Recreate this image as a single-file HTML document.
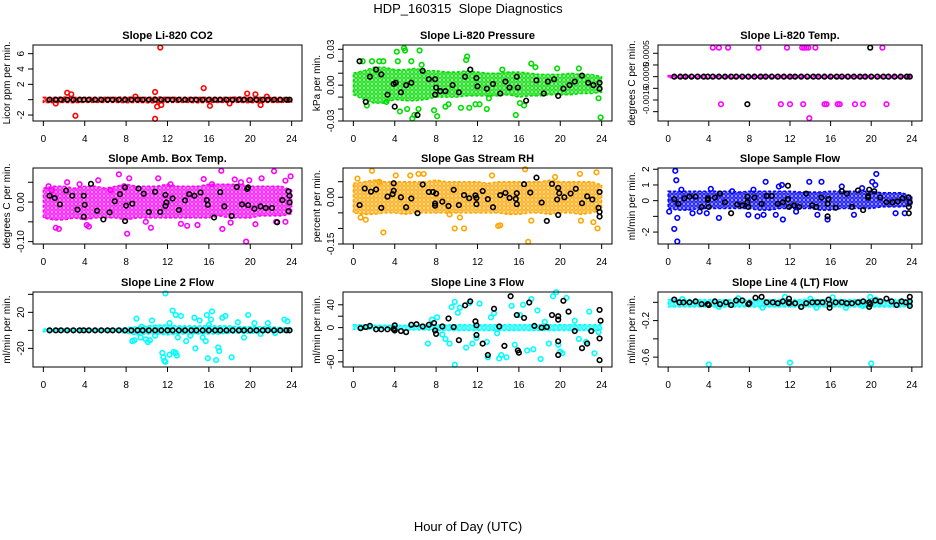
<!DOCTYPE html>
<html><head><meta charset="utf-8"><style>
html,body{margin:0;padding:0;background:#fff;}
svg{display:block;font-family:"Liberation Sans",sans-serif;}
</style></head><body>
<svg id="chart" width="936" height="540" viewBox="0 0 936 540" xmlns="http://www.w3.org/2000/svg">
<text x="468" y="13" font-size="13" text-anchor="middle" style="white-space:pre">HDP_160315  Slope Diagnostics</text>
<text x="468" y="531" font-size="13" text-anchor="middle">Hour of Day (UTC)</text>
</svg>
<script>
const xTicks=[0,4,8,12,16,20,24];
const hours=[0,1,2,3,4,5,6,7,8,9,10,11,12,13,14,15,16,17,18,19,20,21,22,23,24];
const blackXsCommon=[0.6,1.2,1.7,2.3,2.9,3.5,3.9,4.4,5,5.6,6.2,6.7,7.3,7.9,8.5,9.1,9.6,10.2,10.8,11.4,12,12.5,13.1,13.7,14.3,14.8,15.4,16,16.6,17.1,17.7,18.3,18.9,19.4,20,20.6,21.2,21.7,22.3,22.9,23.5,23.8];
const titles=["Slope Li-820 CO2","Slope Li-820 Pressure","Slope Li-820 Temp.","Slope Amb. Box Temp.","Slope Gas Stream RH","Slope Sample Flow","Slope Line 2 Flow","Slope Line 3 Flow","Slope Line 4 (LT) Flow"];
const yTitles=["Licor ppm per min.","kPa per min.","degrees C per min.","degrees C per min.","percent per min.","ml/min per min.","ml/min per min.","ml/min per min.","ml/min per min."];
const colors=["#ff0000","#00dd00","#ff00ff","#ff00ff","#ffa500","#0000ff","#00ffff","#00ffff","#00ffff"];
const yLims=[[-2.78,7.13],[-0.03,0.0336],[-0.0024,0.000855],[-0.106,0.086],[-0.15,0.094],[-2.76,2.08],[-40.7,42.6],[-69,62.4],[-0.708,0.113]];
const yTickVals=[[-2,0,2,4,6],[-0.03,-0.02,-0.01,0,0.01,0.02,0.03],[-0.002,-0.0015,-0.001,-0.0005,0,0.0005],[-0.1,-0.05,0,0.05],[-0.15,-0.1,-0.05,0,0.05],[-2,-1,0,1,2],[-20,0,20,40],[-60,-40,-20,0,20,40],[-0.6,-0.4,-0.2,0]];
const yTickLabels=[["-2","","2","4","6"],["-0.03","","","0.00","","","0.03"],["","-0.0015","","-0.0005","","0.0005"],["-0.10","","0.00",""],["-0.15","","","0.00",""],["-2","","0","1","2"],["-20","","20",""],["-60","","","0","","40"],["-0.6","","-0.2",""]];
const bandLo=[
[-0.35,-0.4,-0.35,-0.4,-0.35,-0.35,-0.35,-0.35,-0.4,-0.35,-0.4,-0.4,-0.35,-0.35,-0.35,-0.4,-0.35,-0.35,-0.35,-0.35,-0.4,-0.35,-0.35,-0.35,-0.3],
[-0.008,-0.012,-0.015,-0.015,-0.012,-0.013,-0.013,-0.012,-0.01,-0.01,-0.01,-0.009,-0.009,-0.009,-0.009,-0.008,-0.01,-0.009,-0.009,-0.008,-0.008,-0.008,-0.007,-0.007,-0.006],
[-0.00055,-0.00055,-0.00055,-0.00055,-0.00055,-0.00055,-0.00055,-0.00055,-0.00055,-0.00055,-0.00055,-0.00055,-0.00055,-0.00055,-0.00055,-0.00055,-0.00055,-0.00055,-0.00055,-0.00055,-0.00055,-0.00055,-0.00055,-0.00055,-0.00055],
[-0.04,-0.045,-0.045,-0.04,-0.045,-0.04,-0.04,-0.04,-0.045,-0.04,-0.04,-0.04,-0.04,-0.04,-0.04,-0.04,-0.04,-0.035,-0.04,-0.04,-0.04,-0.035,-0.035,-0.035,-0.03],
[-0.05,-0.055,-0.055,-0.05,-0.05,-0.055,-0.05,-0.05,-0.05,-0.05,-0.05,-0.05,-0.05,-0.05,-0.05,-0.055,-0.055,-0.05,-0.05,-0.055,-0.05,-0.05,-0.055,-0.05,-0.04],
[-0.5,-0.6,-0.6,-0.5,-0.5,-0.5,-0.5,-0.5,-0.5,-0.6,-0.6,-0.5,-0.5,-0.5,-0.5,-0.6,-0.6,-0.5,-0.5,-0.5,-0.5,-0.4,-0.4,-0.4,-0.3],
[-1.5,-1.5,-1.5,-1.5,-1.5,-1.5,-1.5,-1.5,-3,-5,-4,-4,-5,-4,-4,-4,-4,-4,-3,-3,-3,-3,-2,-2,-2],
[-3,-3,-3,-3,-3,-4,-4,-4,-5,-5,-5,-5,-5,-5,-5,-5,-5,-5,-5,-5,-5,-5,-5,-5,-5],
[-0.05,-0.05,-0.05,-0.05,-0.05,-0.05,-0.05,-0.05,-0.05,-0.05,-0.05,-0.05,-0.05,-0.05,-0.05,-0.05,-0.05,-0.05,-0.05,-0.05,-0.05,-0.05,-0.05,-0.05,-0.04]];
const bandHi=[
[0.3,0.3,0.35,0.3,0.3,0.3,0.3,0.3,0.35,0.3,0.3,0.35,0.3,0.3,0.3,0.3,0.3,0.3,0.3,0.35,0.3,0.3,0.3,0.3,0.25],
[0.01,0.012,0.015,0.015,0.013,0.013,0.014,0.012,0.012,0.011,0.011,0.012,0.011,0.01,0.01,0.011,0.011,0.01,0.009,0.009,0.009,0.01,0.009,0.009,0.007],
[-0.00045,-0.00045,-0.00045,-0.00045,-0.00045,-0.00045,-0.00045,-0.00045,-0.00045,-0.00045,-0.00045,-0.00045,-0.00045,-0.00045,-0.00045,-0.00045,-0.00045,-0.00045,-0.00045,-0.00045,-0.00045,-0.00045,-0.00045,-0.00045,-0.00045],
[0.035,0.04,0.04,0.035,0.04,0.04,0.035,0.04,0.045,0.04,0.04,0.04,0.045,0.04,0.04,0.04,0.045,0.045,0.045,0.045,0.04,0.04,0.04,0.04,0.03],
[0.045,0.05,0.055,0.05,0.05,0.05,0.05,0.05,0.055,0.05,0.05,0.05,0.05,0.045,0.05,0.05,0.05,0.05,0.05,0.055,0.05,0.05,0.05,0.05,0.04],
[0.6,0.6,0.6,0.6,0.6,0.6,0.6,0.55,0.6,0.6,0.6,0.6,0.6,0.55,0.55,0.55,0.6,0.6,0.6,0.6,0.6,0.5,0.5,0.5,0.3],
[1.5,1.5,1.5,1.5,1.5,1.5,1.5,1.5,3,4,5,6,6,5,5,5,5,5,5,4,4,4,4,3,3],
[5,5,4,4,4,4,5,5,5,5,5,5,5,5,5,5,5,5,5,5,5,5,5,5,5],
[0.03,0.03,0.03,0.03,0.03,0.03,0.03,0.03,0.03,0.03,0.03,0.03,0.03,0.03,0.03,0.03,0.03,0.03,0.03,0.03,0.03,0.03,0.03,0.03,0.02]];
const colorPts=[
[[2.3,0.9],[2.7,0.7],[3.1,-2.1],[8.9,0.4],[10.8,1.0],[10.8,-2.5],[11,-0.9],[11.3,6.8],[11.4,-0.7],[15.5,1.5],[16.1,-0.8],[19.7,0.8],[20.5,0.7],[21,-0.7],[1.2,-0.5],[18,-0.5],[21.6,0.4]],
[[0.9,0.02],[1.3,-0.017],[1.8,0.02],[2.5,0.02],[2.9,0.02],[3.2,-0.014],[4.2,0.028],[4.3,0.02],[4.5,-0.022],[4.9,0.031],[5,0.029],[5.2,-0.02],[5.6,0.02],[5.7,-0.028],[5.9,-0.025],[6.3,-0.02],[6.4,0.029],[6.6,0.017],[7.8,-0.021],[8.1,-0.026],[8.9,-0.018],[9.2,-0.016],[10.4,-0.019],[10.9,0.021],[11,0.024],[11.2,-0.019],[11.8,-0.016],[12.2,-0.016],[12.9,-0.02],[13.1,-0.011],[14.4,0.013],[15.7,-0.025],[16.1,-0.015],[16.5,-0.017],[17.2,0.018],[17.6,0.015],[19.7,0.014],[21.8,0.014],[23.7,-0.011],[23.9,-0.027]],
[[4.4,0.00074],[5,0.00074],[5.9,0.00074],[8.9,0.00074],[11.7,0.00074],[13.2,0.00074],[13.4,0.00074],[13.6,0.00074],[13.8,0.00074],[14.5,0.00074],[21.1,0.00074],[5.2,-0.00168],[11.1,-0.00168],[12,-0.00168],[13.3,-0.00168],[15.4,-0.00168],[15.6,-0.00168],[16.7,-0.00168],[16.9,-0.00168],[18.4,-0.00168],[19.2,-0.00168],[21.5,-0.00168],[13.9,-0.00228]],
[[0.5,0.04],[0.8,0.03],[1.2,-0.065],[1.5,-0.068],[2.3,0.05],[3.5,0.045],[4.2,-0.058],[4.4,-0.062],[5.3,0.055],[6.5,0.03],[7.3,0.07],[7.8,0.04],[8.1,-0.08],[8.3,0.06],[9.9,-0.05],[10.4,-0.065],[11.1,0.06],[12.3,0.045],[13.3,-0.055],[13.9,-0.06],[14.9,-0.058],[15.5,0.058],[16.3,0.045],[17.2,0.079],[17.3,-0.068],[18.1,-0.052],[18.5,0.057],[19.1,0.05],[19.6,-0.1],[19.9,0.055],[20.5,-0.056],[21.1,0.06],[22.3,0.078],[22.5,-0.05],[23.4,0.054],[23.9,0.065],[23.4,-0.05]],
[[0.4,0.06],[0.7,-0.065],[1.2,-0.072],[1.8,0.085],[2.5,0.05],[2.9,-0.113],[4.1,0.07],[5.5,0.07],[6.3,0.075],[6.8,0.075],[9.3,-0.055],[9.8,-0.1],[10.3,-0.065],[10.7,-0.1],[13.4,0.07],[14,-0.092],[14.2,-0.09],[16.6,0.09],[16.9,-0.143],[17.2,-0.075],[19.5,0.065],[21.9,0.075],[22,-0.075],[23.2,-0.08],[23.5,0.08],[23.6,-0.1]],
[[0.1,-0.7],[0.6,-1.8],[0.7,1.9],[0.8,1.3],[0.9,-1.1],[0.9,-2.6],[1.3,0.7],[2.4,-0.8],[3.1,-0.7],[3.8,-0.8],[4.2,0.75],[5,-1.1],[6.3,0.6],[7.9,-0.9],[8.4,0.7],[8.8,-1],[9.4,-0.9],[9.6,1.2],[10.6,-0.9],[10.9,0.9],[11.2,1],[11.3,-1.2],[12.6,-0.7],[13.9,1.2],[14.7,-0.9],[15.1,1.2],[15.7,-1.2],[17.1,0.9],[18.3,-0.9],[19.1,0.8],[20.1,1.2],[20.4,1],[20.5,1.7],[22.4,-0.8],[23.3,-0.8]],
[[8.6,-12],[8.8,-11],[9,13],[9.5,4],[9.4,-8],[9.9,-10],[10.1,-13],[10.3,-11],[10.5,11],[10.8,-6],[11.5,-25],[11.6,-30],[11.7,-34],[11.8,-35],[11.8,41],[12.2,-27],[12.6,-24],[12.8,-25],[12.9,-28],[12.2,8],[12.5,22],[12.8,17],[13,-8],[13.3,16],[13.8,-12],[14.2,-6],[14.6,14],[14.7,-20],[15.1,11],[15.4,-8],[15.7,-12],[15.8,17],[15.9,-31],[16,6],[16.2,12],[16.3,21],[16.7,-33],[16.9,-19],[17,-23],[17.3,14],[17.6,16],[18.2,-30],[18.8,9],[19.4,-8],[19.8,17],[20.4,8],[21,-4],[21.7,8],[22.4,-3],[23.3,12],[23.6,10]],
[[7.2,-28],[7.6,14],[8.1,18],[8.6,-12],[8.9,-20],[9.3,-28],[9.5,36],[9.8,45],[10.1,26],[10.3,35],[10.9,-35],[11.2,43],[11.5,-28],[11.9,-18],[12.2,42],[12.9,-25],[13,-52],[13.3,18],[13.6,25],[13.9,-10],[14.1,-54],[14.3,-48],[14.8,-52],[15.3,38],[15.6,-30],[16.1,22],[16.4,40],[16.8,-40],[17.2,50],[17.4,-38],[17.8,30],[18.1,-55],[18.5,10],[18.9,-28],[19.3,55],[19.6,62],[19.8,-30],[20,-42],[20.2,-45],[20.6,52],[20.8,28],[21.4,12],[21.8,-20],[22.5,-25],[22.8,28],[23.3,-45],[23.7,-8],[9.8,-65]],
[[4,-0.68],[12,-0.66],[20,-0.67],[1.4,0.035],[6.9,0.045],[9.3,-0.06],[11.5,0.06],[14,0.04],[14.6,-0.06],[16.2,0.055],[17.5,-0.06],[19.2,-0.04],[19.9,0.06],[13.1,-0.05],[5,-0.05],[20.5,0.03]]];
const blackPts=[
blackXsCommon.map(x=>[x,0]),
[[0.6,0.02],[1.2,-0.014],[1.6,0.007],[2.2,0.013],[2.7,0.009],[3.3,-0.008],[3.9,0.001],[4,-0.018],[4.1,0.002],[4.6,-0.006],[5.1,0],[5.6,0.002],[6.2,-0.025],[6.7,0.012],[7.3,0.005],[7.9,0.005],[7.9,-0.008],[8,-0.002],[8.4,-0.005],[8.9,-0.005],[9.6,0],[10.2,-0.006],[10.8,0.007],[11.3,0.013],[11.9,0.006],[12,-0.001],[12.9,-0.003],[13.5,0.001],[14.2,-0.007],[14.7,0.003],[15.1,-0.002],[15.8,0.007],[15.9,-0.002],[16.7,-0.013],[17.7,0.004],[18.4,-0.007],[18.8,0.003],[19.4,0.005],[19.8,-0.009],[20.3,-0.003],[20.9,0],[21.4,0.003],[22.1,0.008],[22.7,0.002],[23.2,0],[23.8,0.002],[23.8,-0.003]],
blackXsCommon.map(x=>[x,-0.0005]).concat([[19.9,0.00074],[7.8,-0.00168]]),
[[0.6,0.016],[1.1,0.01],[1.6,-0.006],[2.2,0.029],[2.8,0.016],[3.3,-0.019],[3.9,0.016],[3.9,-0.037],[4,-0.007],[4.6,0.046],[5.2,-0.022],[5.8,-0.044],[6.4,-0.026],[6.9,0.002],[7.4,0.02],[7.9,-0.048],[8,-0.009],[7.9,0.037],[8.6,-0.004],[9.2,0.034],[9.7,0.021],[10.2,-0.025],[10.8,0.026],[11.3,-0.025],[11.8,0.018],[11.9,-0.001],[11.8,-0.01],[12.5,0.009],[13.1,-0.02],[13.7,0.004],[14.1,0.02],[14.6,0.016],[15.2,0.024],[15.8,0.005],[15.9,-0.007],[16.5,-0.039],[17.1,0.025],[17.5,-0.011],[18.2,-0.035],[18.7,0.038],[19.2,-0.006],[19.7,0.033],[19.8,0.037],[19.8,-0.008],[20.4,-0.017],[21,-0.011],[21.5,-0.015],[22.1,-0.015],[22.6,-0.051],[23.1,0.005],[23.7,0.027],[23.8,0.016],[23.8,-0.001],[23.7,-0.023]],
[[0.6,-0.025],[1.1,0.028],[1.7,0.018],[2.2,0.025],[2.7,-0.034],[3.3,0.002],[3.8,0.01],[3.9,0.045],[3.9,0.021],[4.6,0],[5.1,-0.032],[5.6,-0.004],[6.2,-0.051],[6.7,0.041],[7.3,0.017],[7.7,0.017],[7.9,-0.02],[7.9,-0.027],[8,0.012],[8.6,-0.014],[9.2,-0.028],[9.7,0.024],[10.2,-0.025],[10.7,0.007],[11.2,-0.003],[11.8,0.006],[11.9,-0.002],[11.9,-0.022],[12.5,0.02],[13,-0.006],[13.5,-0.032],[14.2,0.007],[14.7,0.014],[15.1,-0.002],[15.7,-0.005],[15.8,0.013],[15.8,-0.022],[16.5,0.042],[17.1,0.015],[17.7,0.063],[18.2,-0.017],[18.7,-0.076],[19.2,0.043],[19.7,-0.007],[19.8,0.03],[19.8,-0.057],[19.9,0.013],[20.4,0],[21,0.012],[21.5,0.027],[22.1,-0.019],[22.6,0.003],[23.1,-0.007],[23.7,-0.034],[23.8,-0.047],[23.8,-0.062],[23.8,0.017]],
[[0.6,0.1],[1,-0.2],[1.6,0.15],[2.1,0.25],[2.7,0.25],[3.3,-0.4],[3.9,0.15],[3.9,0.05],[4,-0.4],[4.6,0.2],[5.1,0.45],[5.6,-0.1],[6.2,-0.8],[6.8,-0.25],[7.3,-0.3],[7.8,0.25],[7.8,-0.1],[7.9,-0.4],[8.5,0.2],[9.2,-0.2],[9.7,0.3],[10.2,0.3],[10.8,-0.2],[11.3,-0.1],[11.8,0.95],[11.8,0.1],[11.9,-0.4],[12.4,-0.3],[12.9,-0.4],[13.6,0.45],[14.2,-0.3],[14.6,-0.4],[15.1,0.2],[15.7,-0.2],[15.8,0.1],[15.7,-1],[16.5,-0.45],[17.1,0.6],[17.6,0.45],[18.1,-0.4],[18.7,0.65],[19.2,-0.6],[19.7,0.2],[19.8,0.7],[19.7,0.3],[20.3,0.6],[20.9,0.2],[21.5,-0.1],[22.1,-0.1],[22.6,-0.05],[23.1,0.15],[23.7,0.2],[23.7,-0.4],[23.7,-0.8],[23.8,-0.1]],
blackXsCommon.map(x=>[x,0]),
[[0.7,-1],[1.2,1],[1.6,3],[2.2,-3],[2.7,-3],[3.3,-3],[3.9,-2],[3.9,-3],[4,4],[4,-5],[4.6,-6],[5.1,-8],[5.6,5],[6.1,6],[6.7,2],[7.3,5],[7.8,8],[7.9,-5],[8,-11],[8.6,2],[9.2,16],[9.7,1],[10.2,-22],[10.8,39],[11.3,46],[11.8,11],[11.9,-13],[11.9,4],[12.5,-28],[13,-48],[13.6,33],[14.1,2],[14.6,-32],[15.2,55],[15.8,22],[16,-44],[15.9,-40],[16.5,17],[17,44],[17.5,3],[18.2,0],[18.7,1],[19.2,22],[19.8,20],[19.8,14],[19.8,-24],[19.8,-48],[20.3,47],[20.8,28],[21.4,-6],[22.1,-36],[22.6,-28],[23,-6],[23.8,31],[23.9,12],[23.8,-19],[23.8,-57]],
[[0.6,0.03],[1.1,0],[1.5,0],[2.1,0],[2.7,0.01],[3.3,-0.02],[3.9,-0.02],[4,-0.03],[4.6,0.01],[5.1,-0.02],[5.7,0],[6.2,-0.03],[6.7,0.02],[7.3,0.02],[7.9,-0.02],[8,-0.01],[8.6,0.05],[9.2,0.06],[9.7,0],[10.3,0],[10.8,-0.01],[11.3,0.01],[11.9,0.04],[11.9,-0.01],[11.9,0],[12.5,-0.01],[13.1,-0.05],[13.6,-0.01],[14.2,0],[14.7,0],[15.2,0],[15.8,0.03],[15.9,-0.02],[15.9,-0.06],[16.5,0],[17.1,0],[17.6,-0.01],[18.1,-0.01],[18.7,0],[19.2,0.01],[19.8,0],[19.8,-0.05],[19.9,-0.02],[20.4,0.02],[20.9,0.01],[21.5,0.04],[22,0.01],[22.5,-0.03],[23,0.01],[23.4,0],[23.8,0.06],[23.8,0.01],[23.8,-0.04]]];

const NS="http://www.w3.org/2000/svg";
const svg=document.getElementById('chart');
const colL=[33,343,658], colR=[302,612,922];
const rowT=[45,168,292], rowB=[121,244,367];
function mk(tag,attrs,parent){const e=document.createElementNS(NS,tag);for(const k in attrs)e.setAttribute(k,attrs[k]);(parent||svg).appendChild(e);return e;}
const defs=mk('defs',{});
colors.forEach((c,i)=>{
  const p=mk('pattern',{id:'pat'+i,width:4,height:4,patternUnits:'userSpaceOnUse'},defs);
  mk('rect',{x:0,y:0,width:4,height:4,fill:c,'fill-opacity':0.25},p);
  mk('circle',{cx:2,cy:2,r:1.3,fill:'none',stroke:c,'stroke-width':1.1},p);
});
for(let i=0;i<9;i++){
  const r=Math.floor(i/3),c=i%3;
  const L=colL[c],R=colR[c],T=rowT[r],B=rowB[r];
  const g=mk('g',{});
  
  
  const padL=L+(R-L)*0.0385, padR=R-(R-L)*0.0385;
  const xs=v=>padL+(v/24)*(padR-padL);
  const [y0,y1]=yLims[i];
  const ys=v=>B-(v-y0)/(y1-y0)*(B-T);
  const t=mk('text',{x:(L+R)/2,y:T-6,'font-size':11,'font-weight':'bold','text-anchor':'middle'},g);
  t.textContent=titles[i];
  
  
  let d='';
  hours.forEach((h,k)=>{d+=(k?'L':'M')+xs(h).toFixed(1)+','+ys(bandHi[i][k]).toFixed(1);});
  for(let k=hours.length-1;k>=0;k--){d+='L'+xs(hours[k]).toFixed(1)+','+ys(bandLo[i][k]).toFixed(1);}
  const band=mk('path',{d:d+'Z',fill:'url(#pat'+i+')',stroke:colors[i],'stroke-width':1.5,'stroke-dasharray':'3 2'},g);
  
  
  colorPts[i].forEach(p=>{
    const e=mk('circle',{cx:xs(p[0]),cy:ys(p[1]),r:2.3,fill:'none',stroke:colors[i],'stroke-width':1.6},g);
    
    
  });
  blackPts[i].forEach(p=>{
    const e=mk('circle',{cx:xs(p[0]),cy:ys(p[1]),r:2.3,fill:'none',stroke:'#000','stroke-width':1.6},g);
    
    
  });
  const box=mk('rect',{x:L,y:T,width:R-L,height:B-T,fill:'none',stroke:'#000','stroke-width':1},g);
  
  
  xTicks.forEach(v=>{
    mk('line',{x1:xs(v),x2:xs(v),y1:B,y2:B+5,stroke:'#000'},g);
    const tl=mk('text',{x:xs(v),y:B+21,'font-size':10,'text-anchor':'middle'},g);
    tl.textContent=v;
    
    
  });
  const tfs = i===2 ? 8.5 : 10;
  yTickVals[i].forEach((v,k)=>{
    mk('line',{x1:L,x2:L-5,y1:ys(v),y2:ys(v),stroke:'#000'},g);
    const lab=yTickLabels[i][k];
    if(lab){
      const tl=mk('text',{x:L-9,y:ys(v),'font-size':tfs,'text-anchor':'middle',transform:'rotate(-90 '+(L-9)+' '+ys(v)+')'},g);
      tl.textContent=lab;
      
      
    }
  });
  const yl=mk('text',{x:L-23,y:(T+B)/2,'font-size':10,'text-anchor':'middle',transform:'rotate(-90 '+(L-23)+' '+(T+B)/2+')'},g);
  yl.textContent=yTitles[i];
  
  
}
</script>
</body></html>
